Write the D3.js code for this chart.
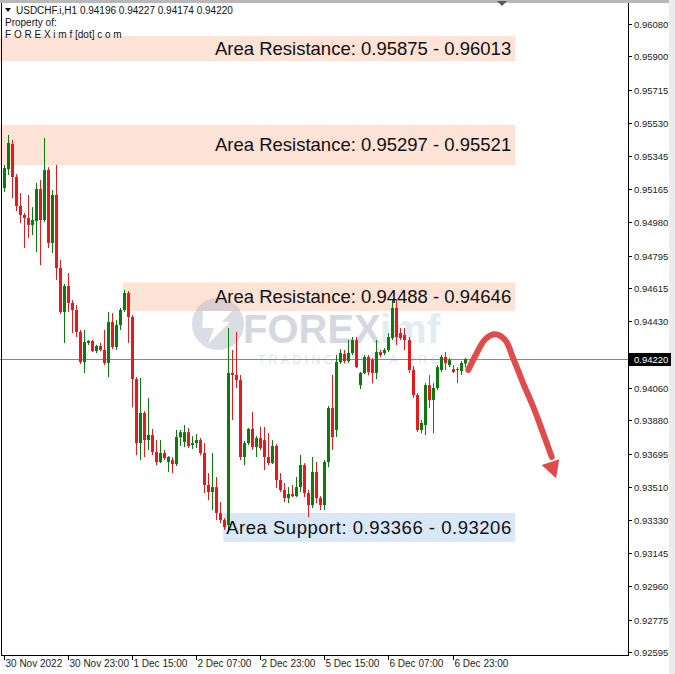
<!DOCTYPE html>
<html><head><meta charset="utf-8">
<script src="https://cdn.jsdelivr.net/npm/d3@7"></script>
<style>body{margin:0;background:#fff;} svg{display:block;}</style>
</head><body>
<svg id="c" width="675" height="674"></svg>
<script>
// ---- data (USDCHF.i, H1, candle index 0 = 30 Nov 2022 07:00) ----
const openP=[0.95170,0.95275,0.95414,0.95231,0.95070,0.95020,0.95003,0.94965,0.94987,0.95164,
0.94992,0.95270,0.94865,0.95131,0.94726,0.94482,0.94626,0.94532,0.94493,0.94371,
0.94204,0.94310,0.94321,0.94265,0.94293,0.94271,0.94199,0.94426,0.94287,0.94409,
0.94493,0.94587,0.94454,0.94110,0.93754,0.93921,0.93771,0.93799,0.93705,0.93649,
0.93699,0.93649,0.93660,0.93638,0.93788,0.93760,0.93815,0.93743,0.93754,0.93771,
0.93699,0.93522,0.93483,0.93510,0.93366,0.93327,0.93300,0.94143,0.94132,0.94104,
0.93677,0.93754,0.93833,0.93732,0.93782,0.93771,0.93677,0.93643,0.93738,0.93549,
0.93494,0.93449,0.93472,0.93460,0.93510,0.93632,0.93477,0.93410,0.93594,0.93449,
0.93410,0.93649,0.93949,0.93827,0.94204,0.94249,0.94210,0.94254,0.94326,0.94076,
0.94143,0.94232,0.94215,0.94143,0.94260,0.94254,0.94271,0.94337,0.94504,0.94365,
0.94354,0.94326,0.94160,0.94021,0.93827,0.93855,0.94076,0.93993,0.94060,0.94160,
0.94232,0.94187,0.94165,0.94165,0.94154,0.94196];
const highP=[0.95298,0.95464,0.95436,0.95247,0.95142,0.95031,0.95131,0.95064,0.95198,0.95214,
0.95448,0.95286,0.95159,0.95298,0.94770,0.94637,0.94698,0.94548,0.94521,0.94382,
0.94382,0.94326,0.94326,0.94299,0.94310,0.94382,0.94482,0.94476,0.94437,0.94504,
0.94604,0.94598,0.94465,0.94121,0.94115,0.93932,0.94004,0.93833,0.93771,0.93771,
0.93716,0.93682,0.93677,0.93827,0.93827,0.93855,0.93838,0.93793,0.93804,0.93782,
0.93754,0.93588,0.93699,0.93566,0.93427,0.93338,0.94393,0.94271,0.94371,0.94132,
0.93766,0.93838,0.93927,0.93793,0.93844,0.93844,0.93810,0.93771,0.93749,0.93588,
0.93533,0.93510,0.93522,0.93566,0.93688,0.93643,0.93494,0.93677,0.93649,0.93460,
0.93660,0.93960,0.94132,0.94243,0.94276,0.94271,0.94326,0.94343,0.94343,0.94149,
0.94243,0.94243,0.94226,0.94326,0.94271,0.94282,0.94365,0.94548,0.94548,0.94393,
0.94393,0.94343,0.94182,0.94032,0.93882,0.94087,0.94132,0.94087,0.94187,0.94243,
0.94260,0.94226,0.94187,0.94176,0.94210,0.94227];
const lowP=[0.95148,0.95242,0.95114,0.95042,0.94976,0.94837,0.94893,0.94909,0.94815,0.94742,
0.94981,0.94837,0.94809,0.94659,0.94471,0.94310,0.94482,0.94365,0.94343,0.94193,
0.94143,0.94299,0.94260,0.94254,0.94265,0.94187,0.94121,0.94276,0.94271,0.94382,
0.94482,0.94310,0.93954,0.93688,0.93660,0.93677,0.93716,0.93688,0.93632,0.93643,
0.93660,0.93594,0.93588,0.93627,0.93738,0.93732,0.93727,0.93721,0.93727,0.93688,
0.93477,0.93438,0.93383,0.93327,0.93311,0.93272,0.93272,0.93882,0.94060,0.93660,
0.93632,0.93743,0.93716,0.93677,0.93716,0.93605,0.93632,0.93638,0.93505,0.93483,
0.93427,0.93421,0.93455,0.93455,0.93483,0.93455,0.93344,0.93394,0.93421,0.93383,
0.93383,0.93621,0.93716,0.93788,0.94193,0.94199,0.94199,0.94243,0.94171,0.94054,
0.94137,0.94132,0.94087,0.94110,0.94232,0.94243,0.94260,0.94326,0.94299,0.94326,
0.94271,0.94143,0.94004,0.93815,0.93810,0.93799,0.93949,0.93810,0.94049,0.94149,
0.94160,0.94176,0.94143,0.94087,0.94132,0.94174];
const closeP=[0.95281,0.95420,0.95231,0.95070,0.95020,0.95003,0.94965,0.94992,0.95164,0.94992,
0.95270,0.94865,0.95131,0.94726,0.94482,0.94626,0.94532,0.94493,0.94371,0.94204,
0.94315,0.94321,0.94265,0.94293,0.94271,0.94199,0.94426,0.94287,0.94409,0.94493,
0.94587,0.94454,0.94110,0.93754,0.93921,0.93771,0.93799,0.93705,0.93649,0.93699,
0.93671,0.93677,0.93638,0.93788,0.93815,0.93815,0.93738,0.93754,0.93771,0.93699,
0.93522,0.93483,0.93510,0.93366,0.93327,0.93288,0.94143,0.94132,0.94104,0.93677,
0.93754,0.93833,0.93732,0.93782,0.93727,0.93677,0.93643,0.93738,0.93549,0.93494,
0.93449,0.93472,0.93460,0.93510,0.93632,0.93477,0.93410,0.93594,0.93449,0.93410,
0.93649,0.93949,0.93788,0.94204,0.94254,0.94210,0.94254,0.94326,0.94176,0.94143,
0.94232,0.94149,0.94143,0.94260,0.94243,0.94271,0.94343,0.94504,0.94343,0.94337,
0.94326,0.94160,0.94021,0.93827,0.93866,0.94076,0.93993,0.94060,0.94176,0.94232,
0.94199,0.94215,0.94149,0.94160,0.94199,0.94220];

const xTickIdx=[0,16,32,48,64,80,96,112];
const xTickLabels=["30 Nov 2022","30 Nov 23:00","1 Dec 15:00","2 Dec 07:00","2 Dec 23:00","5 Dec 15:00","6 Dec 07:00","6 Dec 23:00"];
const yTickLabels=["0.96080","0.95900","0.95715","0.95530","0.95345","0.95165","0.94980","0.94795","0.94615","0.94430","0.94245","0.94060","0.93880","0.93695","0.93510","0.93330","0.93145","0.92960","0.92775","0.92595"];

const zoneLow=[0.95875,0.95297,0.94488,0.93206];
const zoneHigh=[0.96013,0.95521,0.94646,0.93366];
const zoneStartIdx=[-2,-2,29.8,54.8];
const zoneKind=["res","res","res","sup"];
const zoneLabels=["Area Resistance: 0.95875 - 0.96013","Area Resistance: 0.95297 - 0.95521","Area Resistance: 0.94488 - 0.94646","Area Support: 0.93366 - 0.93206"];
const zoneEndIdx=127.6;

const lastPrice=0.94220;
const headerText="USDCHF.i,H1  0.94196 0.94227 0.94174 0.94220";

// projected path (index, price)
const arrowIdx=[115.9,118.0,120.1,122.6,125.1,127.1,129.6,132.1,134.6,136.7];
const arrowPrice=[0.94160,0.94253,0.94330,0.94358,0.94326,0.94225,0.94086,0.93956,0.93808,0.93678];
const arrowHeadIdx=[134.2,138.6,137.8];
const arrowHeadPrice=[0.93633,0.93664,0.93559];

// ---- drawing ----
const W=675,H=674;
const plotR=628, plotB=655;
const svg=d3.select("#c");
const x=d3.scaleLinear().domain([0,115]).range([3.5,464.65]);
const y=d3.scaleLinear().domain([0.92595,0.96080]).range([652,24]);
const RED="#e8191c", GREEN="#0c7a0c";
const FONT="'Liberation Sans', Arial, sans-serif";

svg.append("rect").attr("width",W).attr("height",H).attr("fill","#fff");
svg.append("rect").attr("x",669).attr("y",0).attr("width",6).attr("height",H).attr("fill","#ececec");
svg.append("rect").attr("x",0).attr("y",0).attr("width",669).attr("height",3).attr("fill","#b8b8b8");
svg.append("path").attr("d","M497,1 L507,1 L502,6 Z").attr("fill","#505a6a");

// zones
const zg=svg.append("g");
zoneLow.forEach((lo,i)=>{
  const x0=Math.max(0,x(zoneStartIdx[i])), x1=x(zoneEndIdx);
  zg.append("rect").attr("x",x0).attr("y",y(zoneHigh[i])).attr("width",x1-x0)
    .attr("height",y(lo)-y(zoneHigh[i]))
    .attr("fill",zoneKind[i]==="res"?"#fde2d6":"#d9e8f6");
});

// watermark
const wm=svg.append("g").attr("opacity",0.5);
wm.append("circle").attr("cx",218).attr("cy",324).attr("r",26).attr("fill","#b8bccb");
wm.append("path").attr("d","M203,311 L232,311 L222,322 L230,322 L208,344 L214,328 L202,328 Z").attr("fill","#fff");
wm.append("text").attr("x",243).attr("y",343).attr("font-family",FONT).attr("font-weight","bold")
  .attr("font-size",40).attr("fill","#aeb2c4").text("FOREX");
wm.append("text").attr("x",380).attr("y",343).attr("font-family",FONT).attr("font-weight","bold")
  .attr("font-size",40).attr("fill","#c4dcec").text("imf");
wm.append("text").attr("x",258).attr("y",364).attr("font-family",FONT)
  .attr("font-size",12).attr("textLength",182).attr("lengthAdjust","spacing").attr("fill","#c6c9d4").text("TRADING LIKE A PRO");

// current price line
svg.append("line").attr("x1",0).attr("x2",plotR).attr("y1",Math.round(y(lastPrice))+0.5).attr("y2",Math.round(y(lastPrice))+0.5)
  .attr("stroke","#7b8a96").attr("stroke-width",1);

// candles
const idx=d3.range(openP.length);
const cg=svg.append("g");
idx.forEach(i=>{
  const cx=Math.round(x(i));
  const up=closeP[i]>=openP[i];
  const col=up?GREEN:RED;
  cg.append("line").attr("x1",cx+0.5).attr("x2",cx+0.5).attr("y1",y(highP[i])).attr("y2",y(lowP[i]))
    .attr("stroke",col).attr("stroke-width",1);
  const yt=y(Math.max(openP[i],closeP[i])), yb=y(Math.min(openP[i],closeP[i]));
  cg.append("rect").attr("x",cx-1).attr("y",yt).attr("width",3).attr("height",Math.max(1,yb-yt)).attr("fill",col);
});

// zone labels
zoneLabels.forEach((t,i)=>{
  const tx=svg.append("text").attr("x",x(zoneEndIdx)-4).attr("y",(y(zoneHigh[i])+y(zoneLow[i]))/2+6.5)
    .attr("text-anchor","end").attr("font-family",FONT).attr("font-size",18.5).attr("fill","#111").text(t);
  if(zoneKind[i]==="sup") tx.attr("textLength",285).attr("lengthAdjust","spacing");
});

// arrow
const line=d3.line().x(d=>x(d[0])).y(d=>y(d[1])).curve(d3.curveCatmullRom);
svg.append("path").attr("d",line(arrowIdx.map((v,i)=>[v,arrowPrice[i]])))
  .attr("fill","none").attr("stroke","#e04b4b").attr("stroke-width",6).attr("stroke-linecap","round");
svg.append("path").attr("d",d3.line().x(d=>x(d[0])).y(d=>y(d[1]))(arrowHeadIdx.map((v,i)=>[v,arrowHeadPrice[i]]))+"Z")
  .attr("fill","#e04b4b");

// frame
svg.append("line").attr("x1",1.5).attr("x2",1.5).attr("y1",3).attr("y2",plotB).attr("stroke","#000");
svg.append("line").attr("x1",plotR+0.5).attr("x2",plotR+0.5).attr("y1",3).attr("y2",plotB).attr("stroke","#000");
svg.append("line").attr("x1",1).attr("x2",plotR+1).attr("y1",plotB+0.5).attr("y2",plotB+0.5).attr("stroke","#000");

// y axis
const ly=Math.round(y(lastPrice));
const ya=svg.append("g");
yTickLabels.forEach(t=>{
  const yy=Math.round(y(+t))+0.5;
  ya.append("line").attr("x1",plotR).attr("x2",plotR+4).attr("y1",yy).attr("y2",yy).attr("stroke","#000");
  ya.append("text").attr("x",plotR+6).attr("y",yy+3.5).attr("font-family",FONT).attr("font-size",9.5).attr("fill","#222").text(t);
});
svg.append("rect").attr("x",plotR+1).attr("y",ly-6).attr("width",42).attr("height",13).attr("fill","#000");
svg.append("text").attr("x",plotR+6).attr("y",ly+4).attr("font-family",FONT).attr("font-size",9.5).attr("fill","#fff").text(d3.format(".5f")(lastPrice));

// x axis
xTickIdx.forEach((k,j)=>{
  const xx=Math.round(x(k))+0.5;
  svg.append("line").attr("x1",xx).attr("x2",xx).attr("y1",plotB).attr("y2",plotB+5).attr("stroke","#000");
  svg.append("text").attr("x",xx+1).attr("y",plotB+12).attr("font-family",FONT).attr("font-size",10).attr("fill","#222").text(xTickLabels[j]);
});

// header
svg.append("path").attr("d","M5,8 L11,8 L8,12 Z").attr("fill","#111");
svg.append("text").attr("x",16).attr("y",14).attr("font-family",FONT).attr("font-size",10).attr("fill","#111").text(headerText);
svg.append("text").attr("x",5).attr("y",26).attr("font-family",FONT).attr("font-size",10).attr("fill","#111").text("Property of:");
svg.append("text").attr("x",5).attr("y",38).attr("font-family",FONT).attr("font-size",10).attr("fill","#111").text("F O R E X i m f [dot] c o m");
</script>
</body></html>
